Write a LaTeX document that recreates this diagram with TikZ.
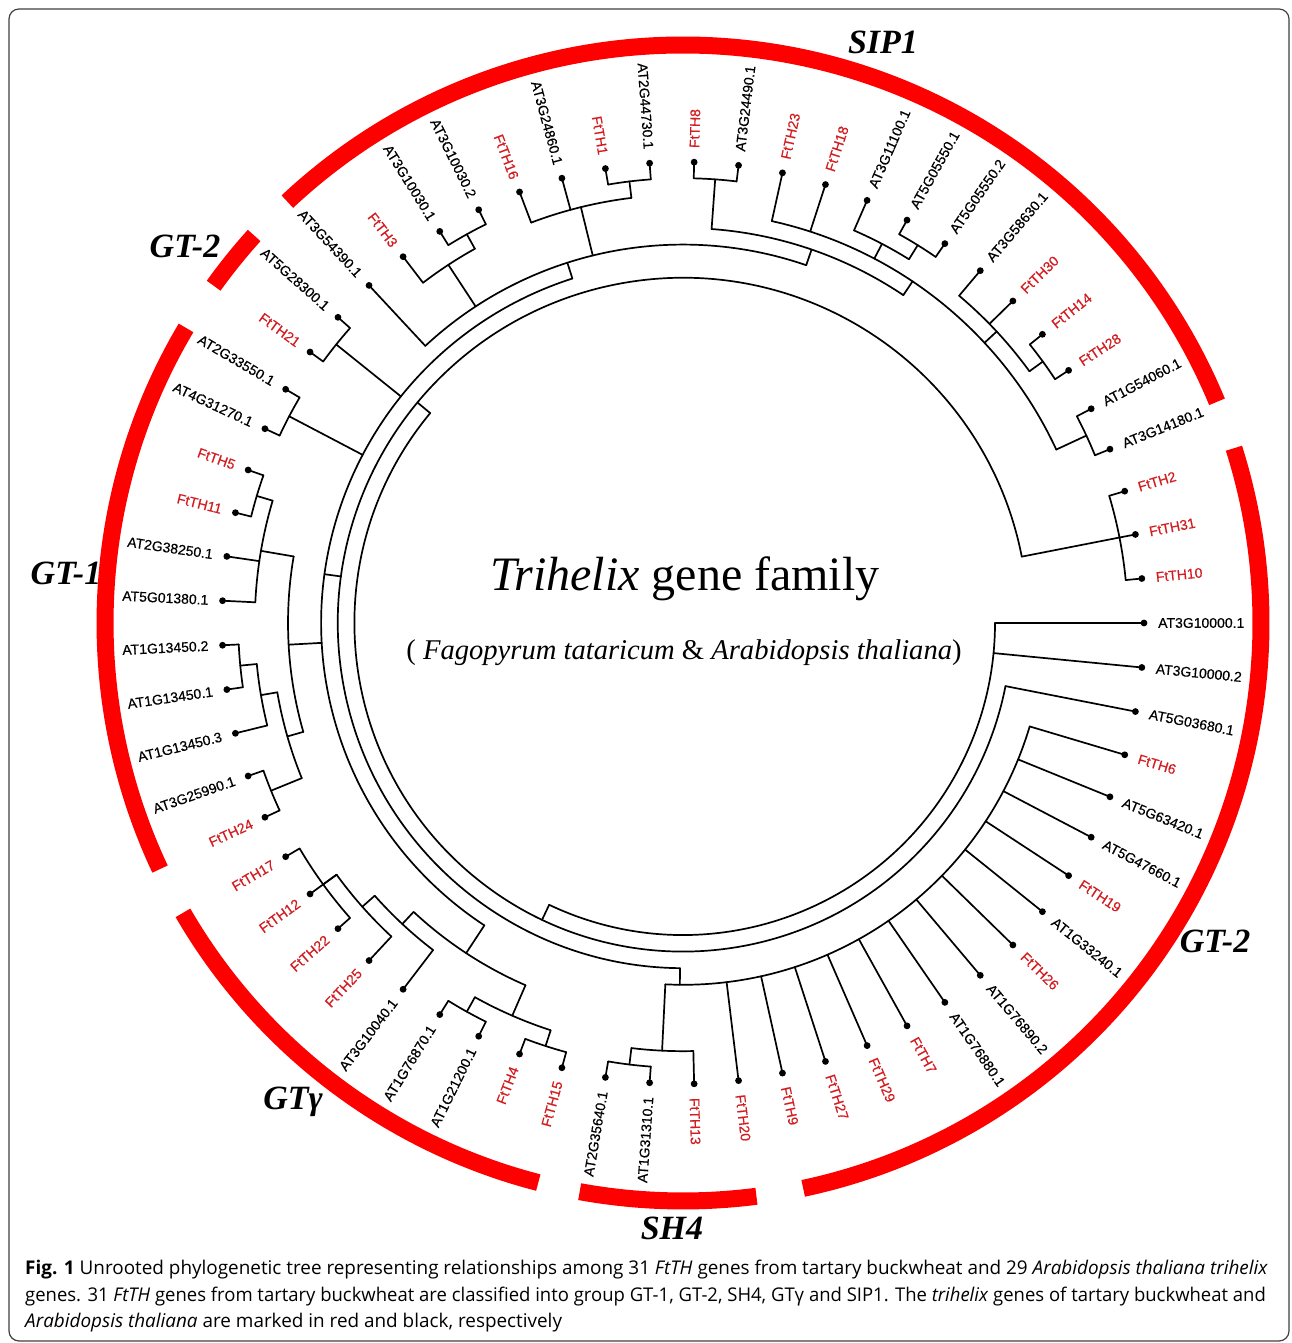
\documentclass[tikz,border=0pt]{standalone}
\usepackage{fontspec}
\setmainfont{Liberation Serif}
\newfontfamily\labfont[FakeBold=0.4]{Liberation Sans}
\newfontfamily\capfont{Open Sans}
\definecolor{labred}{RGB}{210,28,32}
\definecolor{arcred}{RGB}{255,0,0}
\tikzset{
  br/.style={line width=1.7pt, line join=round, line cap=round},
  lab/.style={font=\labfont\fontsize{14pt}{16pt}\selectfont, inner sep=1pt},
  grp/.style={font=\fontsize{34pt}{40pt}\selectfont\bfseries\itshape},
  redarc/.style={draw=arcred, line width=17pt},
  captext/.style={font=\capfont\fontsize{18.9pt}{22pt}\selectfont, inner sep=0pt, anchor=west}
}
\newcommand\tbStem[3]{%
  \pgfmathsetmacro\tbra{312+16.6*#2}%
  \pgfmathsetmacro\tbrb{312+16.6*#3}%
  \draw[br] ([shift={(#1:\tbra)}]C) -- ([shift={(#1:\tbrb)}]C);}
\newcommand\tbArc[3]{%
  \pgfmathsetmacro\tbra{312+16.6*#1}%
  \draw[br] ([shift={(#2:\tbra)}]C) arc[start angle=#2, end angle=#3, radius=\tbra pt];}
\newcommand\tbLeaf[4]{%
  \pgfmathsetmacro\tbang{-(#1-1)*5.5384615}%
  \pgfmathsetmacro\tbra{312+16.6*#2}%
  \draw[br] ([shift={(\tbang:\tbra)}]C) -- ([shift={(\tbang:461)}]C) coordinate (t#1);
  \fill (t#1) circle[radius=3.4pt];
  \pgfmathsetmacro\tbc{cos(\tbang)}%
  \ifdim\tbc pt<0pt
    \pgfmathsetmacro\tbrot{\tbang+180}%
    \node[lab,text=#4,anchor=east,rotate=\tbrot] (n#1) at ([shift={(\tbang:474)}]C) {#3};
  \else
    \node[lab,text=#4,anchor=west,rotate=\tbang] (n#1) at ([shift={(\tbang:474)}]C) {#3};
  \fi}
\newcommand\tbGroup[3]{%
  \draw[redarc] ([shift={(#1:578)}]C) arc[start angle=#1, end angle=#2, radius=578pt];}
\begin{document}
\begin{tikzpicture}[x=1pt,y=1pt]
\useasboundingbox (0,0) rectangle (1292,1343);
\fill[white] (0,0) rectangle (1292,1343);
\draw[rounded corners=10pt, line width=1.2pt, black!75] (9,2) rectangle (1289,1334);
\coordinate (C) at (683,720);
% ---------------- tree ----------------
% root
\tbArc{0}{-115.4}{0}
\tbLeaf{1}{0}{AT3G10000.1}{black}
\tbLeaf{2}{0}{AT3G10000.2}{black}
\tbStem{-115.4}{0}{1}
\tbArc{1}{-219.7}{-11.08}
\tbLeaf{3}{1}{AT5G03680.1}{black}
\tbStem{-219.7}{1}{2}
\tbArc{2}{-348.92}{-90.5}
% comb (GT-2)
\tbStem{-90.5}{2}{3}
\tbArc{3}{-92.8}{-16.62}
\tbLeaf{4}{3}{FtTH6}{labred}
\tbLeaf{5}{3}{AT5G63420.1}{black}
\tbLeaf{6}{3}{AT5G47660.1}{black}
\tbLeaf{7}{3}{FtTH19}{labred}
\tbLeaf{8}{3}{AT1G33240.1}{black}
\tbLeaf{9}{3}{FtTH26}{labred}
\tbLeaf{10}{3}{AT1G76890.2}{black}
\tbLeaf{11}{3}{AT1G76880.1}{black}
\tbLeaf{12}{3}{FtTH7}{labred}
\tbLeaf{13}{3}{FtTH29}{labred}
\tbLeaf{14}{3}{FtTH27}{labred}
\tbLeaf{15}{3}{FtTH9}{labred}
\tbLeaf{16}{3}{FtTH20}{labred}
% SH4
\tbStem{-92.8}{3}{7}
\tbArc{7}{-96.92}{-88.62}
\tbLeaf{17}{7}{FtTH13}{labred}
\tbStem{-96.92}{7}{8}
\tbArc{8}{-99.69}{-94.15}
\tbLeaf{18}{8}{AT1G31310.1}{black}
\tbLeaf{19}{8}{AT2G35640.1}{black}
% Y
\tbStem{-187.75}{2}{3}
\tbArc{3}{-252.2}{-123.3}
% GT gamma
\tbStem{-123.3}{3}{5}
\tbArc{5}{-133.0}{-113.5}
\tbStem{-113.5}{5}{7}
\tbArc{7}{-119.08}{-108.0}
\tbStem{-119.08}{7}{8}
\tbArc{8}{-121.85}{-116.31}
\tbLeaf{22}{8}{AT1G21200.1}{black}
\tbLeaf{23}{8}{AT1G76870.1}{black}
\tbStem{-108.0}{7}{8}
\tbArc{8}{-110.77}{-105.23}
\tbLeaf{20}{8}{FtTH15}{labred}
\tbLeaf{21}{8}{FtTH4}{labred}
\tbStem{-133.0}{5}{6}
\tbArc{6}{-138.5}{-127.38}
\tbLeaf{24}{6}{AT3G10040.1}{black}
\tbStem{-138.5}{6}{7}
\tbArc{7}{-144.0}{-132.92}
\tbLeaf{25}{7}{FtTH25}{labred}
\tbLeaf{27}{7}{FtTH12}{labred}
\tbStem{-144.0}{7}{8}
\tbArc{8}{-149.54}{-138.46}
\tbLeaf{26}{8}{FtTH22}{labred}
\tbLeaf{28}{8}{FtTH17}{labred}
% GT-1
\tbStem{-176.85}{3}{5}
\tbArc{5}{-189.7}{-164.0}
\tbStem{-189.7}{5}{7}
\tbArc{7}{-196.6}{-182.77}
\tbLeaf{34}{7}{AT5G01380.1}{black}
\tbLeaf{35}{7}{AT2G38250.1}{black}
\tbStem{-196.6}{7}{8}
\tbArc{8}{-199.38}{-193.85}
\tbLeaf{36}{8}{FtTH11}{labred}
\tbLeaf{37}{8}{FtTH5}{labred}
\tbStem{-164.0}{5}{6}
\tbArc{6}{-170.3}{-157.85}
\tbStem{-170.3}{6}{7}
\tbArc{7}{-174.5}{-166.15}
\tbLeaf{31}{7}{AT1G13450.3}{black}
\tbStem{-174.5}{7}{8}
\tbArc{8}{-177.23}{-171.69}
\tbLeaf{32}{8}{AT1G13450.1}{black}
\tbLeaf{33}{8}{AT1G13450.2}{black}
\tbStem{-157.85}{6}{8}
\tbArc{8}{-160.62}{-155.08}
\tbLeaf{29}{8}{FtTH24}{labred}
\tbLeaf{30}{8}{AT3G25990.1}{black}
\tbStem{-207.69}{3}{8}
\tbArc{8}{-210.46}{-204.92}
\tbLeaf{38}{8}{AT4G31270.1}{black}
\tbLeaf{39}{8}{AT2G33550.1}{black}
% GT-2 small
\tbStem{-218.77}{3}{8}
\tbArc{8}{-221.54}{-216.0}
\tbLeaf{40}{8}{FtTH21}{labred}
\tbLeaf{41}{8}{AT5G28300.1}{black}
% SIP1
\tbStem{-252.2}{3}{4}
\tbArc{4}{-289.0}{-227.08}
\tbLeaf{42}{4}{AT3G54390.1}{black}
\tbStem{-236.77}{4}{7}
\tbArc{7}{-240.92}{-232.62}
\tbLeaf{43}{7}{FtTH3}{labred}
\tbStem{-240.92}{7}{8}
\tbArc{8}{-243.69}{-238.15}
\tbLeaf{44}{8}{AT3G10030.1}{black}
\tbLeaf{45}{8}{AT3G10030.2}{black}
\tbStem{-256.2}{4}{7}
\tbArc{7}{-263.08}{-249.23}
\tbLeaf{46}{7}{FtTH16}{labred}
\tbLeaf{47}{7}{AT3G24860.1}{black}
\tbStem{-263.08}{7}{8}
\tbArc{8}{-265.85}{-260.31}
\tbLeaf{48}{8}{FtTH1}{labred}
\tbLeaf{49}{8}{AT2G44730.1}{black}
\tbStem{-289.0}{4}{5}
\tbArc{5}{-303.9}{-274.15}
\tbStem{-274.15}{5}{8}
\tbArc{8}{-276.92}{-271.38}
\tbLeaf{50}{8}{FtTH8}{labred}
\tbLeaf{51}{8}{AT3G24490.1}{black}
\tbStem{-303.9}{5}{6}
\tbArc{6}{-335.08}{-282.46}
\tbLeaf{52}{6}{FtTH23}{labred}
\tbLeaf{53}{6}{FtTH18}{labred}
\tbStem{-297.7}{6}{7}
\tbArc{7}{-301.85}{-293.54}
\tbLeaf{54}{7}{AT3G11100.1}{black}
\tbStem{-301.85}{7}{8}
\tbArc{8}{-304.62}{-299.08}
\tbLeaf{55}{8}{AT5G05550.1}{black}
\tbLeaf{56}{8}{AT5G05550.2}{black}
\tbStem{-317.1}{6}{7}
\tbArc{7}{-324.0}{-310.15}
\tbLeaf{57}{7}{AT3G58630.1}{black}
\tbLeaf{58}{7}{FtTH30}{labred}
\tbStem{-324.0}{7}{8}
\tbArc{8}{-326.77}{-321.23}
\tbLeaf{59}{8}{FtTH14}{labred}
\tbLeaf{60}{8}{FtTH28}{labred}
\tbStem{-335.08}{6}{8}
\tbArc{8}{-337.85}{-332.31}
\tbLeaf{61}{8}{AT1G54060.1}{black}
\tbLeaf{62}{8}{AT3G14180.1}{black}
% FtTH2/31/10
\tbStem{-348.92}{2}{8}
\tbArc{8}{-354.46}{-343.38}
\tbLeaf{63}{8}{FtTH2}{labred}
\tbLeaf{64}{8}{FtTH31}{labred}
\tbLeaf{65}{8}{FtTH10}{labred}
% ---------------- titles ----------------
\node[font=\fontsize{48pt}{57pt}\selectfont] (title) at (685,764) {\textit{Trihelix} gene family};
\node[font=\fontsize{28.6pt}{34pt}\selectfont] (subtitle) at (684,690) {( \textit{Fagopyrum tataricum} \& \textit{Arabidopsis thaliana})};
% ---------------- group labels ----------------
\node[grp] (gSIP) at (883,1301) {SIP1};
\node[grp] (gGT2a) at (185,1097) {GT-2};
\node[grp] (gGT1) at (66,770) {GT-1};
\node[grp] (gGT2b) at (1215,402) {GT-2};
\node[grp] (gGTg) at (293,241) {GTγ};
\node[grp] (gSH4) at (672,115) {SH4};
% ---------------- red group arcs ----------------
\tbGroup{22.5}{133.2}{SIP1}
\tbGroup{-78.0}{17.6}{GT2}
\tbGroup{-100.3}{-82.7}{SH4}
\tbGroup{-149.9}{-104.5}{GTg}
\tbGroup{149.3}{205.2}{GT1}
\tbGroup{137.9}{144.3}{GT2s}
% ---------------- caption ----------------
\node[captext] (cap1) at (25,73) {\textbf{Fig. 1} Unrooted phylogenetic tree representing relationships among 31 \textit{FtTH} genes from tartary buckwheat and 29 \textit{Arabidopsis thaliana trihelix}};
\node[captext] (cap2) at (25,46) {\scalebox{0.978}[1]{genes. 31 \textit{FtTH} genes from tartary buckwheat are classified into group GT-1, GT-2, SH4, GTγ and SIP1. The \textit{trihelix} genes of tartary buckwheat and}};
\node[captext] (cap3) at (25,20) {\textit{Arabidopsis thaliana} are marked in red and black, respectively};
\end{tikzpicture}
\end{document}
